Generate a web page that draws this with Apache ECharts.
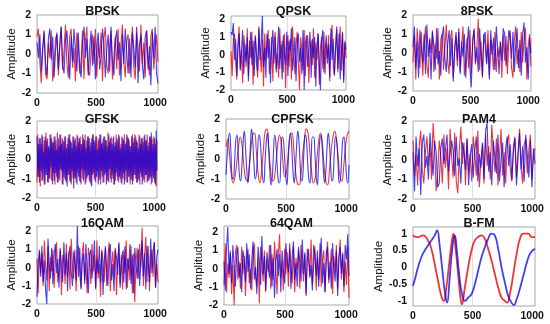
<!DOCTYPE html>
<html><head><meta charset="utf-8">
<script src="https://cdn.jsdelivr.net/npm/echarts@6/dist/echarts.min.js"></script>
<style>html,body{margin:0;padding:0;background:#fff}#c{width:550px;height:324px}</style>
</head><body><div id="c"></div>
<script>
// ---------------- DATA ----------------
const titles = ['BPSK','QPSK','8PSK','GFSK','CPFSK','PAM4','16QAM','64QAM','B-FM'];
const xTickValues = [0, 500, 1000];
const yTickValues = [-2, -1, 0, 1, 2];
const yTickValuesFM = [-1, -0.5, 0, 0.5, 1];
const sampleCount = 1024;

const bpskBlue = [0.6,-0.2,1.0,-0.9,0.3,1.2,-0.5,-1.1,0.8,1.3,-0.3,0.9,-1.2,0.1,1.1,-0.8,0.5,1.4,-0.6,-1.0,0.7,1.2,0.0,-1.3,0.9,-0.4,1.3,0.2,-0.9,1.1,-0.7,-1.2,0.6,1.4,-0.2,0.8,-1.1,0.3,1.2,-0.6,0.9,-1.3,0.4,1.1,-0.8,-0.1,1.3,0.5,-1.2,0.2,1.0,-0.9,1.4,-0.4,-1.1,0.7,1.2,-0.3,0.6,-1.4,1.0,-0.5,1.3,0.1,-1.0,0.8,-1.2,1.1,0.3,-0.7,1.4,-1.5,0.5,1.0,-0.6,-1.3,0.9,1.2,-0.8,0.4,-1.6,1.1,-0.2,1.4,-1.0,-1.5];
const bpskRed = [0.9,1.3,-0.4,-1.5,0.2,1.1,-1.0,-1.3,0.6,-0.2,1.2,-1.4,-0.6,0.8,1.0,-1.1,0.4,1.4,-0.8,0.2,1.5,-0.5,-1.2,0.9,1.3,-0.7,0.3,-1.4,1.1,0.5,-1.0,-0.3,1.2,-1.3,0.7,1.4,-0.9,-1.1,0.2,1.0,-0.5,1.3,-1.2,0.6,-0.2,1.1,-1.4,0.8,1.4,-0.6,-1.0,0.4,1.2,-1.3,-0.1,0.9,-0.8,1.3,-1.1,0.5,1.5,-0.4,-1.2,0.7,1.0,-1.0,0.2,1.4,-0.7,-1.3,1.1,0.3,-0.9,1.5,-0.5,0.6,-1.2,1.2,-0.3,-1.1,0.9,1.3,-0.8,0.2,1.0,-0.4];

const qpskBlue = [1.3,1.1,1.8,-0.3,0.9,-1.2,0.4,1.2,-0.8,0.2,1.4,-1.1,0.6,-0.4,1.0,-1.5,0.3,1.3,-0.6,0.8,-1.2,1.1,0.0,-0.9,1.5,-0.3,0.7,2.2,-0.7,0.4,-1.3,1.2,-0.2,0.9,-1.6,0.5,1.4,-0.5,1.0,-1.0,0.3,1.6,-0.8,0.6,-1.4,1.1,0.1,-0.6,1.3,-1.2,0.8,0.2,1.5,-0.9,-0.1,1.0,-1.5,0.7,1.2,-0.4,0.4,-1.1,1.4,-2.0,0.6,1.1,-0.7,0.3,1.3,-1.3,0.9,-0.2,1.0,-1.8,0.5,1.2,-0.6,-2.0,0.8,1.4,-1.0,0.2,1.1,-0.5,0.6,-1.3,1.5,-0.3,0.9,-1.1,0.4,1.6,-0.8,1.2,-1.4,0.1,1.3,-1.6,0.7,0.3];
const qpskRed = [0.2,-1.2,0.9,1.2,-0.4,-1.4,0.6,1.6,-0.9,0.3,-1.6,1.1,0.4,-0.7,1.5,-1.2,0.8,-0.2,1.3,-1.7,0.5,1.0,-0.6,-1.3,1.6,0.2,-1.0,0.9,-1.8,1.2,-0.3,0.6,1.4,-1.1,-0.4,1.0,-1.5,0.7,1.3,-0.8,0.1,-1.3,1.5,-0.2,0.8,-1.0,1.2,-1.9,0.4,1.1,-0.7,0.9,-1.4,1.6,0.0,-1.1,0.6,1.3,-0.5,-2.0,1.0,0.3,-0.9,1.4,-1.2,0.5,1.1,-1.6,0.2,0.8,-0.6,1.5,-1.3,0.7,-0.3,1.2,-1.7,0.4,1.0,-0.8,1.3,-1.1,0.6,-0.2,1.1,-1.5,0.9,1.7,-0.6,-1.2,0.3,1.4,-1.0,0.5,1.6,-0.9,1.2,-1.4,0.8,-0.2];

const psk8Blue = [0.3,1.4,-0.8,0.6,-1.3,1.2,0.2,-0.5,1.0,-1.1,1.5,-0.2,0.7,-1.4,1.1,0.4,-0.9,1.3,-0.6,0.1,-1.2,0.9,1.4,-0.3,-1.0,0.5,1.2,-0.7,0.8,-1.5,0.2,1.1,-0.4,1.3,-1.1,0.6,-0.2,1.0,-1.3,0.4,1.4,-0.8,-1.8,0.7,1.2,-0.5,0.3,-1.0,1.3,0.0,-1.2,0.9,1.1,-0.6,0.5,-1.4,1.2,-0.1,0.8,-0.9,1.4,0.3,-1.1,0.6,-0.4,1.3,1.0,-0.7,0.2,1.2,0.9,-0.3,1.1,-1.0,0.4,1.3,-0.8,0.7,-1.2,1.0,1.6,-0.5,0.3,-1.4,0.8,0.0];
const psk8Red = [-0.5,0.9,-1.4,1.3,0.2,-0.8,1.1,-1.2,0.4,1.4,-0.6,-1.3,0.8,0.0,1.2,-1.0,0.5,-0.3,1.3,-1.4,0.7,1.0,-0.9,0.3,1.5,-0.4,-1.1,0.8,1.2,-1.3,0.1,0.9,-0.7,1.1,-1.0,0.3,1.4,-1.2,-0.2,0.8,-0.8,1.2,-1.1,0.5,1.3,-0.6,0.2,1.8,-0.9,0.6,-1.3,1.0,0.4,-0.5,1.2,-1.2,0.7,0.0,-0.9,1.1,-1.0,0.3,-0.2,0.6,-1.3,1.0,-0.4,0.9,-1.1,0.5,1.2,-0.8,-1.3,0.7,1.4,-0.6,0.2,-1.0,1.1,-0.5,0.8,1.3,-1.4,0.4,1.0,-0.7];

const gfskBlue = [1.2,-0.9,0.8,-1.2,1.1,-0.6,1.3,-1.1,0.4,-1.3,1.2,-0.8,1.0,-1.2,0.7,-1.0,1.3,-0.4,1.1,-1.3,0.9,-1.1,1.2,-0.7,0.5,-1.2,1.1,-1.0,1.3,-0.5,0.8,-1.3,1.0,-0.9,1.2,-1.1,0.6,-1.4,1.1,-0.8,1.3,-1.2,0.9,-0.6,1.2,-1.5,1.0,-1.0,0.7,-1.3,1.2,-0.9,1.1,-1.2,0.8,-0.5,1.3,-1.1,1.0,-1.3,0.6,-1.0,1.2,-0.8,1.1,-1.2,0.9,-1.4,1.3,-0.7,1.0,-1.1,1.2,-0.9,0.5,-1.3,1.1,-1.0,1.3,-0.6,0.9,-1.2,1.2,-0.8,1.0,-1.3,0.7,-1.1,1.3,-0.5,1.1,-1.2,0.8,-1.0,1.2,-1.3,0.9,-0.7,1.1,-1.1,1.3,-0.9,0.6,-1.2,1.2,-1.0,1.0,-1.3,0.8,-0.6,1.3,-1.2,1.1,-0.9,0.7,-1.1,1.2,-1.3,0.9,-0.8,1.3,-1.0,1.0,-1.2,0.6,-1.1,1.2,-0.7,1.1,-1.3,0.9,-1.0,1.3,-0.8,1.0,-1.2,0.7,-1.1,1.2,-0.9,1.4,-1.2,0.8,-1.0,1.1,-1.3,1.5,-0.6];
const gfskRed = [-1.2,1.3,-0.9,1.1,-1.4,0.8,-1.1,1.2,-0.5,1.0,-1.3,1.4,-0.8,1.1,-1.2,0.6,-1.0,1.3,-1.1,0.9,-0.7,1.2,-1.3,1.0,-0.9,1.4,-1.2,0.7,-1.1,1.3,-0.6,1.1,-1.3,0.9,-1.0,1.2,-1.2,0.8,-0.8,1.3,-1.1,1.0,-1.3,0.6,-1.0,1.2,-0.9,1.1,-1.2,1.3,-0.7,0.9,-1.1,1.2,-1.3,0.8,-1.0,1.1,-0.6,1.3,-1.2,1.0,-0.9,1.2,-1.1,0.7,-1.3,1.1,-0.8,1.3,-1.0,0.9,-1.2,1.2,-0.6,1.0,-1.1,1.3,-1.3,0.8,-0.9,1.1,-1.2,1.2,-0.7,1.0,-1.1,1.4,-1.2,0.9,-1.0,1.2,-0.8,1.1,-1.3,0.7,-1.1,1.3,-0.9,1.0,-1.2,1.2,-1.0,0.8,-1.3,1.1,-0.7,1.3,-1.1,0.9,-1.2,1.2,-0.9,1.0,-1.3,0.7,-1.0,1.3,-1.1,1.1,-0.8,1.2,-1.2,0.9,-1.0,1.3,-1.3,0.8,-0.9,1.1,-1.1,1.2,-1.2,1.0,-0.8,1.3,-1.1,0.9,-1.0,1.2,-1.3,1.1,-0.9,1.2,-1.2,0.8,-1.4,1.0];

const cpfskBlue = [-0.8,0.2,1.0,1.3,0.4,-0.9,-1.0,-0.2,0.9,1.2,0.3,-0.8,-1.1,-0.4,0.8,1.4,0.6,-0.5,-1.2,-0.6,0.6,1.5,0.9,-0.3,-1.0,-0.7,0.4,1.2,1.0,0.0,-0.9,-1.2,-0.2,0.8,1.3,0.5,-0.6,-1.3,-0.9,0.3,1.2,0.8,-0.3,-1.1,-1.2,0.0,1.1,1.0,0.2,-0.8,-1.3,-0.3,0.9,1.3,0.6,-0.6,-1.2,-0.5,0.7,1.4,0.8,-0.4,-1.1,-0.9,0.4,1.2,1.0,-0.1,-1.0,-1.2,0.1,1.1,1.1,0.3,-0.8,-1.3,-0.2,0.9,1.2,0.6,-0.6,-1.2,-0.6,0.6,1.3,0.7,-0.4,-1.1,-0.9,0.4,1.1,0.9,-0.2,-1.2,-1.0,0.1,1.0,1.1,0.2,-0.9,-1.2,-0.3];
const cpfskRed = [0.6,1.0,0.2,-0.8,-1.2,-0.9,-0.2,0.6,1.1,0.7,-0.3,-1.0,-1.1,-0.4,0.5,1.2,1.3,0.4,-0.7,-1.2,-0.6,0.5,1.4,1.5,0.6,-0.5,-1.1,-1.0,-0.2,0.7,1.2,0.8,-0.2,-0.9,-0.6,0.4,1.2,1.3,0.5,-0.6,-1.2,-1.3,-0.8,0.2,1.0,1.5,1.3,0.4,-0.6,-1.2,-1.0,0.0,0.9,1.3,0.8,-0.3,-1.1,-1.3,-0.6,0.4,1.1,1.4,0.9,0.0,-0.9,-1.1,-0.4,0.6,1.2,1.4];

const pam4Blue = [0.4,-1.6,1.2,-0.3,0.6,-1.8,0.9,1.3,-0.4,0.2,-1.0,1.4,0.3,-0.8,1.0,0.4,-1.4,-1.2,0.6,1.1,-0.2,0.5,1.3,-0.6,0.3,1.0,0.5,-0.8,1.2,-0.3,0.1,-1.2,0.9,0.4,-0.5,1.1,-1.3,0.2,0.8,-0.9,0.5,1.2,-1.1,0.3,-0.4,0.9,-1.0,1.5,1.9,-0.6,0.4,-1.3,1.0,0.2,-0.7,1.3,-1.1,0.0,0.9,-1.4,0.6,1.2,-0.3,0.8,-1.0,0.4,1.1,-1.3,0.2,1.4,-0.5,0.7,-1.1,1.3,0.3,-0.9,1.0,-1.4,0.6,-0.2];
const pam4Red = [1.0,-0.8,0.3,-1.3,0.7,1.5,-0.5,-1.2,0.4,1.2,-0.3,0.8,-1.0,1.9,0.5,-1.6,-0.7,1.0,0.2,-1.2,1.3,-0.4,0.6,-1.5,1.6,0.2,-0.9,1.4,-1.1,-1.7,0.5,1.7,-0.2,0.9,-1.3,1.1,-0.6,0.3,-1.1,1.2,0.4,-0.8,1.5,-1.4,0.0,0.8,-1.2,1.3,-0.3,0.7,-1.0,1.8,0.5,-0.6,1.1,-1.3,0.2,1.6,-0.8,0.4,-1.2,0.9,1.3,-0.5,-1.1,0.7,1.2,-0.9,0.3,1.6,-0.4,-1.2,0.8,1.1,-0.7,0.5,1.3,-1.0,0.2,0.6];

const qam16Blue = [-1.6,0.3,0.9,-0.5,1.2,-0.8,0.4,-1.2,-2.0,1.6,0.2,-0.6,1.1,-0.9,0.7,1.3,-0.3,0.5,-1.1,1.0,0.1,-0.8,1.4,-0.4,0.8,-1.3,0.6,1.2,-0.2,-1.0,0.9,0.3,-0.7,2.3,-0.5,1.1,-1.2,0.4,0.8,-0.9,1.3,0.0,-1.4,0.7,1.0,-0.6,0.3,1.5,-1.1,0.5,-0.3,1.2,-0.8,0.9,-1.5,0.4,1.1,-0.2,-1.0,0.8,1.3,-0.7,0.2,-1.3,1.0,0.6,-0.4,1.4,-1.1,0.3,0.9,-0.8,1.2,-1.2,0.5,-0.1,1.3,-0.9,0.7,-1.4,1.1,0.2,-0.6,1.0,-1.0,0.4,1.5,-0.5,0.8,-1.2,1.2,0.3,-0.8,1.6,-0.3,0.9,1.4,-1.1,0.6,1.0];
const qam16Red = [0.5,-1.4,1.0,-0.3,0.8,-1.0,1.5,0.2,-0.7,1.2,-1.3,0.6,-0.2,1.0,-1.1,0.4,1.4,-0.8,-0.1,1.1,-1.5,0.7,0.3,-0.9,1.3,-0.5,0.9,-1.2,1.6,0.1,-0.6,1.0,-1.3,0.5,1.2,-0.4,-1.1,0.8,1.4,-0.7,0.3,-1.4,1.1,0.6,-0.9,1.3,-0.2,0.7,-1.2,1.5,-0.6,0.2,-1.6,1.0,0.4,-0.8,1.2,-1.0,0.6,1.4,-1.3,0.1,0.9,-0.5,1.1,-1.5,0.4,1.3,-0.9,0.7,-1.2,1.0,-0.3,1.5,-1.1,0.5,-0.7,1.2,-1.4,0.8,-1.9,0.3,1.1,-0.6,1.3,0.0,2.2,-1.0,0.6,1.7,-0.8,1.2,-1.3,0.4,1.0,-0.5,1.4,-1.1,0.2,-0.8];

const qam64Blue = [0.4,-1.2,1.1,2.3,-0.3,0.9,-0.8,1.3,0.2,-1.0,0.7,1.2,-0.5,0.3,-1.3,1.0,0.6,-0.7,1.4,-0.2,0.8,-1.1,0.5,1.5,-0.6,0.1,-1.4,1.2,0.4,-0.9,1.8,-0.3,0.7,-1.2,0.9,0.2,-0.5,1.3,-1.0,0.6,-1.6,0.3,1.1,-0.4,0.8,-1.3,1.0,0.0,-0.8,1.4,0.5,-0.2,1.1,-1.1,0.7,1.5,-0.6,0.3,-1.0,1.2,0.4,-0.7,1.6,-0.3,0.9,-1.4,0.6,1.1,-0.5,0.2,-1.2,1.3,0.8,-0.4,1.0,-1.0,0.5,1.7,-0.8,0.3,-1.3,0.9,1.2,-0.6,0.4,-1.1,1.4,0.1,-0.7,1.0,-1.5,0.6,1.2,-0.3,0.8,-1.0,1.3,0.5,1.9,-0.4];
const qam64Red = [-0.9,1.4,-1.3,0.3,-0.5,1.0,-1.4,0.2,-2.0,0.9,1.3,-0.6,0.4,-1.1,1.2,-0.3,0.7,-1.5,0.5,1.1,-0.8,0.0,-1.2,0.9,1.4,-0.4,-1.0,0.6,-1.9,1.2,0.3,-0.7,1.0,-1.3,0.5,-0.2,1.3,-1.1,0.8,-0.6,1.5,0.1,-1.4,0.7,1.9,-0.5,0.4,-1.2,1.1,-0.3,0.9,-1.0,1.4,0.2,-0.8,1.2,-1.3,0.6,-0.1,1.0,-1.1,1.3,0.3,-0.7,0.8,-1.5,1.1,0.4,-0.4,1.6,-0.9,0.2,1.2,-1.2,0.6,-0.6,1.4,-1.0,0.5,1.0,-1.3,0.3,1.5,-0.8,0.0,1.1,-1.4,0.7,-0.2,1.3,-1.1,0.5,1.6,-0.6,0.9,-1.3,0.4,-0.9,1.2,-1.6];

// B-FM: [sample, amplitude]
const bfmRed = [[0,0.95],[42,0.9],[84,0.95],[126,0.8],[154,0.55],[182,0.1],[210,-0.4],[238,-0.85],[258,-1.0],[280,-0.6],[300,0.0],[323,0.7],[340,1.0],[356,0.6],[379,-0.2],[398,-0.9],[410,-1.1],[435,-0.6],[463,0.0],[491,0.5],[519,0.8],[547,0.9],[575,0.95],[603,0.85],[631,0.55],[659,0.2],[687,-0.2],[715,-0.6],[743,-0.9],[771,-1.0],[790,-1.05],[813,-0.8],[842,-0.2],[870,0.4],[898,0.85],[926,1.0],[968,1.0],[996,0.9],[1024,0.9]];
const bfmBlue = [[0,-0.55],[20,-0.3],[42,0.0],[70,0.3],[98,0.5],[126,0.65],[154,0.8],[182,0.95],[202,1.1],[222,0.7],[244,0.0],[266,-0.7],[286,-1.05],[306,-0.4],[328,0.5],[351,0.95],[368,0.5],[390,-0.3],[412,-0.8],[435,-1.0],[463,-0.9],[491,-0.8],[519,-0.5],[547,-0.1],[575,0.3],[603,0.6],[631,0.85],[659,1.0],[687,0.95],[715,0.55],[743,0.0],[771,-0.45],[799,-0.85],[827,-1.05],[845,-1.12],[870,-0.95],[900,-0.6],[930,-0.2],[960,0.2],[990,0.45],[1024,0.55]];

const redSeries  = [bpskRed, qpskRed, psk8Red, gfskRed, cpfskRed, pam4Red, qam16Red, qam64Red, bfmRed];
const blueSeries = [bpskBlue, qpskBlue, psk8Blue, gfskBlue, cpfskBlue, pam4Blue, qam16Blue, qam64Blue, bfmBlue];
const yMin = [-2,-2,-2,-2,-2,-2,-2,-2,-1.15];
const yMax = [2,2.2,2,2,2,2,2.3,2.35,1.2];

// ---------------- LAYOUT ----------------
const boxes = [[37,15,158,93],[231,16,346,90],[413,15,531,91],
               [37,121,157,198],[226,119,349,199],[413,121,535,199],
               [37,226,158,304],[224,226,349,305],[413,227,535,306]];
const titleTops = [0,0,0,108,108,108,212,212,212];
const nameGaps = [17,19,19,17,19,19,17,19,26];
const FONT = 'Liberation Sans, Arial, sans-serif';

function toPairs(arr){
  if (Array.isArray(arr[0])) return arr;
  const n = arr.length;
  return arr.map((v,i)=>[i*sampleCount/(n-1), v]);
}
const plainNum = v => String(v);

const grid=[], xAxis=[], yAxis=[], series=[], title=[];
boxes.forEach((b,i)=>{
  grid.push({left:b[0], top:b[1], width:b[2]-b[0], height:b[3]-b[1], show:true,
    borderColor:'#a8a8a8', borderWidth:1, backgroundColor:'#fff', containLabel:false});
  title.push({text:titles[i], left:(b[0]+b[2])/2, top:titleTops[i], textAlign:'center',
    textStyle:{fontFamily:FONT, fontSize:12.5, fontWeight:'bold', color:'#111'}});
  xAxis.push({type:'value', gridIndex:i, min:0, max:sampleCount,
    axisLine:{show:false},
    axisTick:{show:false, customValues:[500]},
    splitLine:{show:true, lineStyle:{color:'#dedede', width:1}},
    axisLabel:{customValues:xTickValues, formatter:plainNum, fontFamily:FONT, fontWeight:'bold', fontSize:10.5, color:'#111', margin:5}});
  yAxis.push({type:'value', gridIndex:i, min:yMin[i], max:yMax[i],
    axisLine:{show:false}, axisTick:{show:false}, splitLine:{show:false},
    axisLabel:{customValues: i===8 ? yTickValuesFM : yTickValues, formatter:plainNum, fontFamily:FONT, fontWeight:'bold', fontSize:10.5, color:'#111', margin:6},
    name:'Amplitude', nameLocation:'middle', nameGap:nameGaps[i],
    nameTextStyle:{fontFamily:FONT, fontSize:11.5, color:'#111'}});
  const smooth = (i===4 || i===8);
  series.push({type:'line', xAxisIndex:i, yAxisIndex:i, data:toPairs(redSeries[i]), symbol:'none', smooth:smooth,
    lineStyle:{color:'rgba(240,0,0,0.8)', width: i===8?1.8:1.1}, silent:true, z:2});
  series.push({type:'line', xAxisIndex:i, yAxisIndex:i, data:toPairs(blueSeries[i]), symbol:'none', smooth:smooth,
    lineStyle:{color:'rgba(0,0,240,0.75)', width: i===8?1.8:1.1}, silent:true, z:3});
});

const chart = echarts.init(document.getElementById('c'), null, {renderer:'canvas'});
chart.setOption({animation:false, backgroundColor:'#fff', title, grid, xAxis, yAxis, series});
</script>
</body></html>
